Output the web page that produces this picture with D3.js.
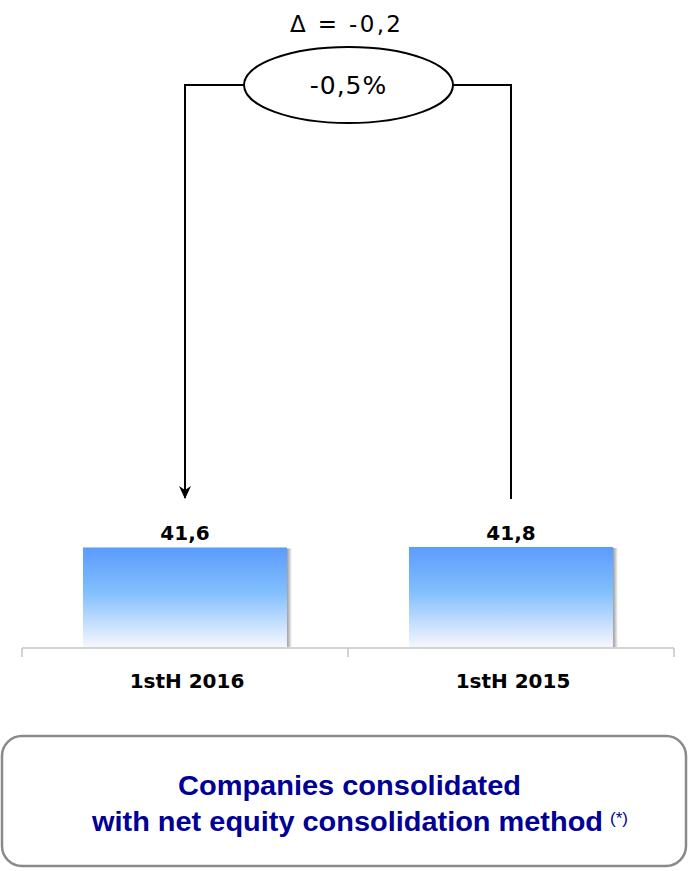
<!DOCTYPE html>
<html lang="en">
	<head>
		<meta charset="utf-8">
		<title>Net equity companies</title>
		<style>
			body { margin: 0; background: #fff; }
			text { font-family: "DejaVu Sans", Verdana, sans-serif; }
			.val { font-size: 20px; font-weight: bold; }
			.cat { font-size: 20px; font-weight: bold; }
			.note text { font-family: "Liberation Sans", Arial, sans-serif; font-weight: bold; fill: #000096; }
		</style>
	</head>
	<body>
		<script src="https://cdn.jsdelivr.net/npm/d3@7"></script>
		<script>
			// data
			var categories = ["1stH 2016", "1stH 2015"];
			var values = [41.6, 41.8];
			var valueLabels = ["41,6", "41,8"];
			var deltaLabel = "\u0394 = -0,2";
			var pctLabel = "-0,5%";
			var noteLines = ["Companies consolidated", "with net equity consolidation method"];

			var w = 688, h = 871;
			var baseY = 647;

			var svg = d3.select("body").append("svg")
				.attr("width", w)
				.attr("height", h);

			var defs = svg.append("defs");

			var grad = defs.append("linearGradient")
				.attr("id", "barGrad")
				.attr("x1", 0).attr("y1", 0).attr("x2", 0).attr("y2", 1);
			grad.append("stop").attr("offset", "0%").attr("stop-color", "#5b9bfd");
			grad.append("stop").attr("offset", "45%").attr("stop-color", "#82bffd");
			grad.append("stop").attr("offset", "100%").attr("stop-color", "#f6f7fd");

			var shade = defs.append("linearGradient")
				.attr("id", "shadeGrad")
				.attr("x1", 0).attr("y1", 0).attr("x2", 1).attr("y2", 0);
			shade.append("stop").attr("offset", "0%").attr("stop-color", "#9a9a9a");
			shade.append("stop").attr("offset", "100%").attr("stop-color", "#ffffff");

			// arrow head pointing along +x, rotated with the path
			defs.append("marker")
				.attr("id", "arrow")
				.attr("viewBox", "0 0 14 12")
				.attr("refX", 13).attr("refY", 6)
				.attr("markerWidth", 14).attr("markerHeight", 12)
				.attr("markerUnits", "userSpaceOnUse")
				.attr("orient", "auto")
				.append("path")
				.attr("d", "M1,0 L14,6 L1,12 L5,6 Z")
				.attr("fill", "#000");

			// scales
			var xScale = d3.scaleBand()
				.domain(categories)
				.range([22, 674])
				.paddingInner(0.374)
				.paddingOuter(0.187);

			var yScale = d3.scaleLinear()
				.domain([0, 42])
				.range([baseY, baseY - 100.5]);

			// bar shadows on the right edge
			svg.selectAll("rect.shadow")
				.data(values)
				.enter()
				.append("rect")
				.attr("class", "shadow")
				.attr("x", function(d, i) { return xScale(categories[i]) + xScale.bandwidth(); })
				.attr("y", function(d) { return yScale(d) + 1; })
				.attr("width", 5)
				.attr("height", function(d) { return baseY - yScale(d) - 1; })
				.attr("fill", "url(#shadeGrad)");

			svg.selectAll("rect.bar")
				.data(values)
				.enter()
				.append("rect")
				.attr("class", "bar")
				.attr("x", function(d, i) { return xScale(categories[i]); })
				.attr("y", function(d) { return yScale(d); })
				.attr("width", xScale.bandwidth())
				.attr("height", function(d) { return baseY - yScale(d); })
				.attr("fill", "url(#barGrad)");

			// axis line with ticks at band boundaries
			var axisG = svg.append("g").attr("class", "xaxis");
			axisG.append("line")
				.attr("x1", xScale.range()[0]).attr("x2", xScale.range()[1])
				.attr("y1", baseY + 1).attr("y2", baseY + 1)
				.attr("stroke", "#c4c4c4").attr("stroke-width", 1.5);
			var bounds = [xScale.range()[0]].concat(categories.map(function(c) {
				return xScale(c) + xScale.bandwidth() + xScale.step() * xScale.paddingInner() / 2;
			}));
			bounds[bounds.length - 1] = xScale.range()[1];
			axisG.selectAll("line.tick")
				.data(bounds)
				.enter()
				.append("line")
				.attr("class", "tick")
				.attr("x1", function(d) { return d; }).attr("x2", function(d) { return d; })
				.attr("y1", baseY + 1).attr("y2", baseY + 10)
				.attr("stroke", "#c4c4c4").attr("stroke-width", 1.5);

			axisG.selectAll("text.cat")
				.data(categories)
				.enter()
				.append("text")
				.attr("class", "cat")
				.attr("x", function(d) { return xScale(d) + xScale.bandwidth() / 2 + 2; })
				.attr("y", 688)
				.attr("text-anchor", "middle")
				.text(function(d) { return d; });

			// value labels
			svg.selectAll("text.val")
				.data(values)
				.enter()
				.append("text")
				.attr("class", "val")
				.attr("x", function(d, i) { return xScale(categories[i]) + xScale.bandwidth() / 2; })
				.attr("y", function(d) { return yScale(d) - 7; })
				.attr("text-anchor", "middle")
				.text(function(d, i) { return valueLabels[i]; });

			// connector from 2015 bar to 2016 bar through the ellipse
			var cx = function(i) { return xScale(categories[i]) + xScale.bandwidth() / 2; };
			var topY = 85, ellX = 348.5, rx = 104.5, ry = 38;
			var lineEnd = yScale(d3.max(values)) - 48;

			svg.append("path")
				.attr("d", "M" + cx(1) + "," + lineEnd + " V" + topY + " H" + (ellX + rx))
				.attr("fill", "none").attr("stroke", "#000").attr("stroke-width", 2);
			svg.append("path")
				.attr("d", "M" + (ellX - rx) + "," + topY + " H" + cx(0) + " V" + (lineEnd - 1))
				.attr("fill", "none").attr("stroke", "#000").attr("stroke-width", 2)
				.attr("marker-end", "url(#arrow)");

			svg.append("ellipse")
				.attr("cx", ellX).attr("cy", topY)
				.attr("rx", rx).attr("ry", ry)
				.attr("fill", "#fff").attr("stroke", "#000").attr("stroke-width", 2);

			svg.append("text")
				.attr("x", ellX).attr("y", topY + 9)
				.attr("text-anchor", "middle")
				.style("font-size", "25px")
				.style("letter-spacing", "1px")
				.text(pctLabel);

			svg.append("text")
				.attr("x", 290).attr("y", 32)
				.attr("textLength", 111)
				.attr("lengthAdjust", "spacing")
				.style("font-size", "23px")
				.text(deltaLabel);

			// note box
			var note = svg.append("g").attr("class", "note");
			note.append("rect")
				.attr("x", 2).attr("y", 736)
				.attr("width", 684).attr("height", 130)
				.attr("rx", 20).attr("ry", 20)
				.attr("fill", "#fff").attr("stroke", "#8a8a8a").attr("stroke-width", 2.5);
			note.append("text")
				.attr("x", 178).attr("y", 795)
				.attr("textLength", 343)
				.attr("lengthAdjust", "spacingAndGlyphs")
				.style("font-size", "28px")
				.text(noteLines[0]);
			note.append("text")
				.attr("x", 92).attr("y", 831)
				.attr("textLength", 511)
				.attr("lengthAdjust", "spacingAndGlyphs")
				.style("font-size", "28px")
				.text(noteLines[1]);
			note.append("text")
				.attr("x", 610).attr("y", 824)
				.style("font-size", "17px")
				.style("font-weight", "normal")
				.text("(*)");
		</script>
	</body>
</html>
